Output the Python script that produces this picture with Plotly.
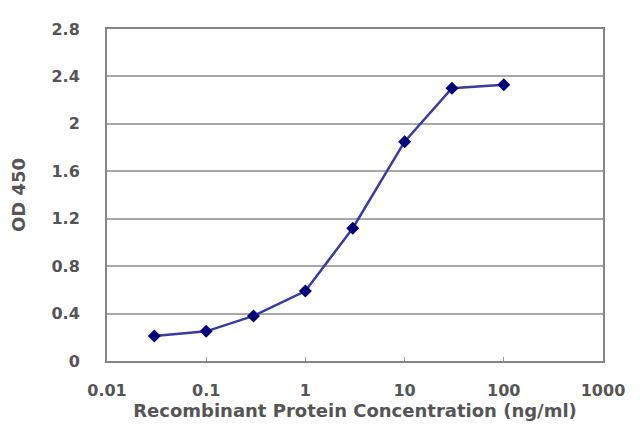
import plotly.graph_objects as go

# concentration (ng/ml) vs OD 450
conc = [0.03, 0.1, 0.3, 1, 3, 10, 30, 100]
od450 = [0.21, 0.25, 0.38, 0.59, 1.12, 1.85, 2.30, 2.33]

x_ticks = [0.01, 0.1, 1, 10, 100, 1000]
x_labels = ["0.01", "0.1", "1", "10", "100", "1000"]
y_ticks = [0, 0.4, 0.8, 1.2, 1.6, 2, 2.4, 2.8]
y_labels = ["0", "0.4", "0.8", "1.2", "1.6", "2", "2.4", "2.8"]

tick_font = dict(family="DejaVu Sans", size=16, color="#555555", weight="bold")
title_font = dict(family="DejaVu Sans", size=18, color="#555555", weight="bold")

fig = go.Figure()
fig.add_trace(go.Scatter(
    x=conc, y=od450, mode="lines+markers",
    line=dict(color="#3a3aa4", width=2.5),
    marker=dict(symbol="diamond", size=10, color="#00007a"),
))

# page body adds ~8px offset, margins compensate
fig.update_layout(
    width=640, height=427,
    margin=dict(l=99, r=45, t=21, b=74),
    paper_bgcolor="white", plot_bgcolor="white",
    showlegend=False,
)
fig.update_xaxes(
    type="log", range=[-2, 3], automargin=False,
    tickvals=x_ticks, ticktext=x_labels, tickfont=tick_font,
    showgrid=False, zeroline=False,
    showline=True, linecolor="#858585", linewidth=2, mirror=True,
    ticks="inside", ticklen=4, tickcolor="#9a9a9a",
    ticklabelstandoff=14,
    title=dict(text="Recombinant Protein Concentration (ng/ml)", standoff=0, font=title_font),
)
fig.update_yaxes(
    range=[0, 2.8], automargin=False,
    tickvals=y_ticks, ticktext=y_labels, tickfont=tick_font,
    showgrid=True, gridcolor="#a8a8a8", gridwidth=2, zeroline=False,
    showline=True, linecolor="#858585", linewidth=2, mirror=True,
    ticks="", ticklabelstandoff=22,
    title=dict(text="OD 450", standoff=24, font=title_font),
)

fig.write_html("out.html")
